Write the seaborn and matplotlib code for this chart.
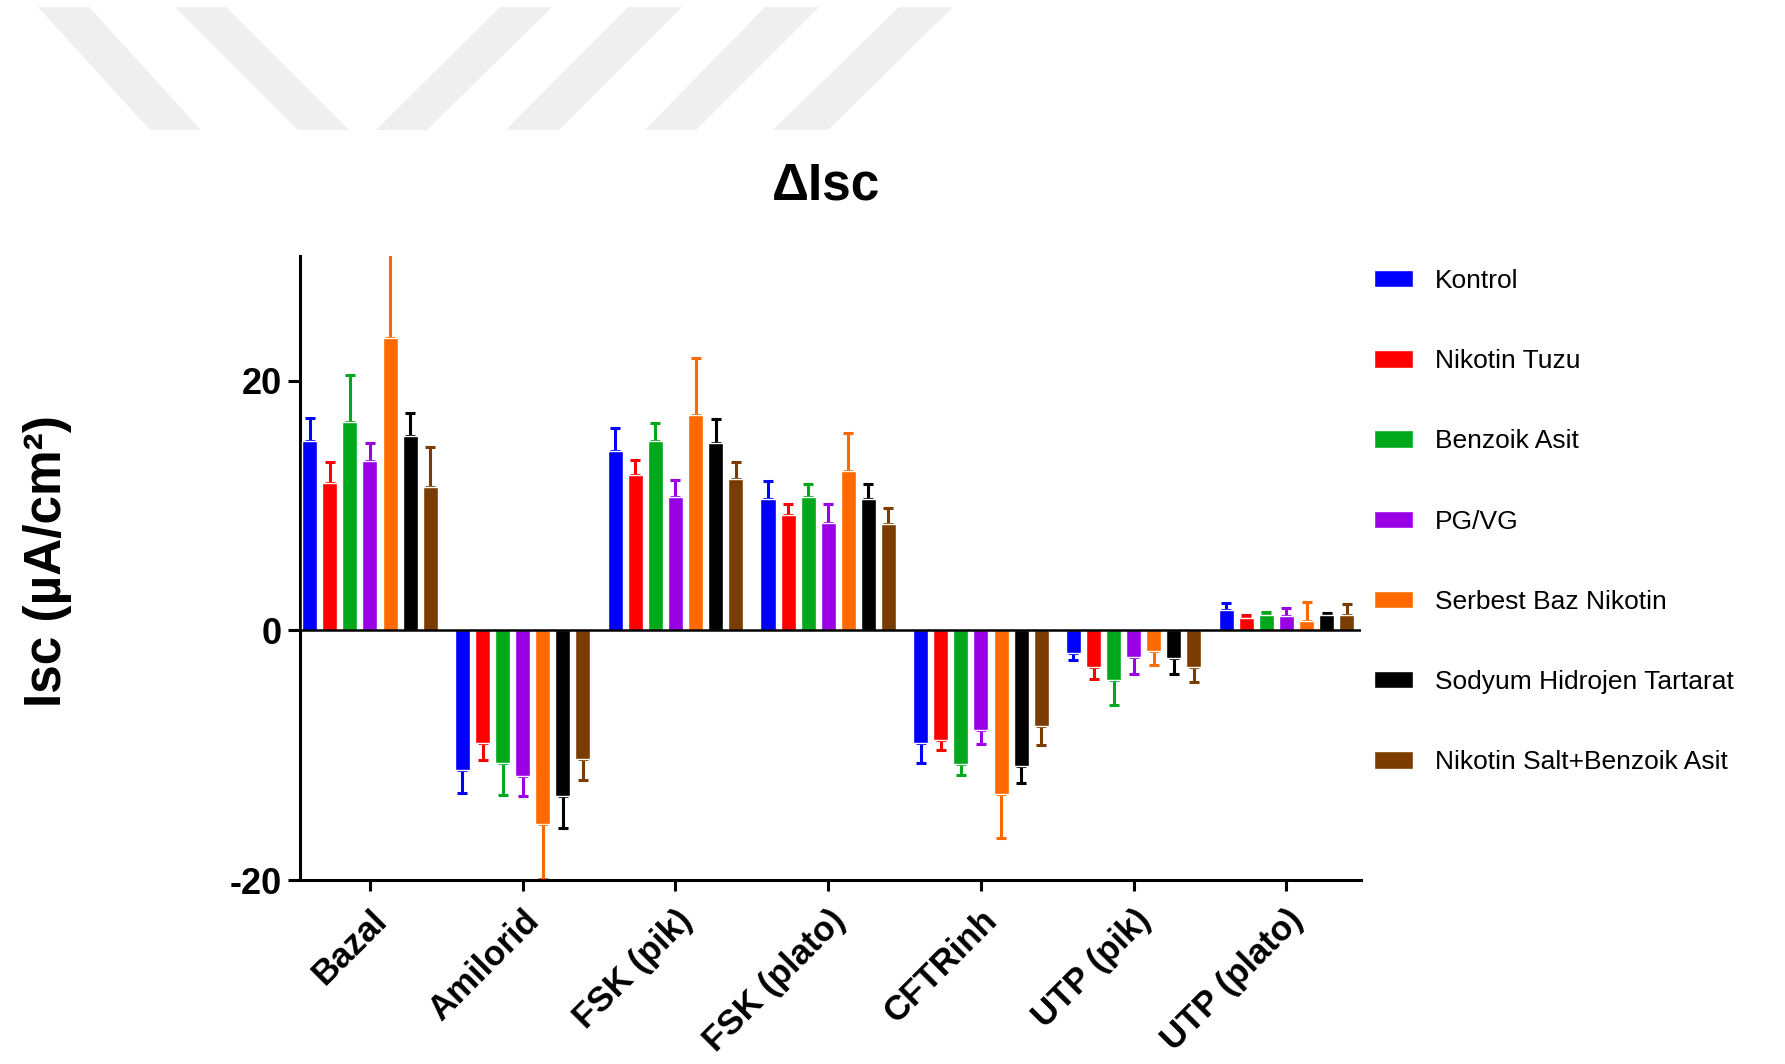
import numpy as np
import pandas as pd
import matplotlib
matplotlib.use("Agg")
import matplotlib.pyplot as plt
from matplotlib.patches import Polygon
import seaborn as sns

categories = ['Bazal', 'Amilorid', 'FSK (pik)', 'FSK (plato)', 'CFTRinh', 'UTP (pik)', 'UTP (plato)']
groups = ['Kontrol', 'Nikotin Tuzu', 'Benzoik Asit', 'PG/VG', 'Serbest Baz Nikotin',
          'Sodyum Hidrojen Tartarat', 'Nikotin Salt+Benzoik Asit']

kontrol = [15.2, -11.2, 14.4, 10.5, -9.0, -1.8, 1.6]
kontrol_err = [1.8, 1.8, 1.85, 1.5, 1.65, 0.55, 0.6]
nikotin_tuzu = [11.8, -9.0, 12.45, 9.25, -8.8, -2.9, 1.0]
nikotin_tuzu_err = [1.7, 1.4, 1.2, 0.85, 0.8, 1.0, 0.2]
benzoik_asit = [16.7, -10.65, 15.2, 10.7, -10.7, -4.0, 1.2]
benzoik_asit_err = [3.8, 2.55, 1.45, 1.0, 0.9, 1.95, 0.3]
pg_vg = [13.6, -11.7, 10.7, 8.6, -8.0, -2.1, 1.15]
pg_vg_err = [1.4, 1.55, 1.35, 1.5, 1.1, 1.4, 0.65]
serbest_baz = [23.4, -15.55, 17.25, 12.8, -13.1, -1.65, 0.75]
serbest_baz_err = [7.5, 4.4, 4.55, 3.0, 3.5, 1.15, 1.5]
sodyum_ht = [15.6, -13.3, 15.0, 10.55, -10.9, -2.25, 1.2]
sodyum_ht_err = [1.8, 2.5, 1.9, 1.15, 1.3, 1.25, 0.2]
nikotin_salt_ba = [11.5, -10.3, 12.1, 8.5, -7.7, -2.9, 1.25]
nikotin_salt_ba_err = [3.2, 1.7, 1.4, 1.3, 1.5, 1.25, 0.9]

values = [kontrol, nikotin_tuzu, benzoik_asit, pg_vg, serbest_baz, sodyum_ht, nikotin_salt_ba]
errors = [kontrol_err, nikotin_tuzu_err, benzoik_asit_err, pg_vg_err, serbest_baz_err,
          sodyum_ht_err, nikotin_salt_ba_err]
colors = ['#0000ff', '#ff0000', '#00a81c', '#9a00e6', '#ff6a00', '#000000', '#7a3c00']

rows = []
for g, vals, errs in zip(groups, values, errors):
    for c, v, e in zip(categories, vals, errs):
        rows.append({'category': c, 'group': g, 'value': v, 'err': e})
df = pd.DataFrame(rows)

sns.set_style('white')
plt.rcParams['font.family'] = ['Liberation Sans', 'DejaVu Sans']
plt.rcParams['axes.unicode_minus'] = False
plt.rcParams['text.color'] = 'black'
plt.rcParams['axes.labelcolor'] = 'black'
plt.rcParams['xtick.color'] = 'black'
plt.rcParams['ytick.color'] = 'black'

W, H = 1785, 1064
fig = plt.figure(figsize=(W / 100, H / 100), dpi=100)

# faint watermark stripes (decoration)
stripes = [((38, 89), (150, 201)), ((175, 226), (298, 349)), ((500, 552), (376, 427)),
           ((628, 682), (506, 559)), ((765, 819), (645, 696)), ((899, 953), (773, 828))]
for (t0, t1), (b0, b1) in stripes:
    ytop, ybot = 1 - 7 / H, 1 - 130 / H
    poly = Polygon([(t0 / W, ytop), (t1 / W, ytop), (b1 / W, ybot), (b0 / W, ybot)],
                   closed=True, transform=fig.transFigure, facecolor='#efefef',
                   edgecolor='none', zorder=0)
    fig.patches.append(poly)

ax = fig.add_axes([300 / W, 1 - 880 / H, (1361 - 300) / W, (880 - 256) / H])
ax.patch.set_alpha(0)

sns.barplot(data=df, x='category', y='value', hue='group', order=categories,
            hue_order=groups, palette=colors, width=0.92, gap=0.25,
            errorbar=None, saturation=1, ax=ax, zorder=3)

for cont, g in zip(ax.containers, groups):
    sub = df[df['group'] == g].set_index('category').loc[categories]
    col = colors[groups.index(g)]
    for p, v, e in zip(cont.patches, sub['value'], sub['err']):
        x = p.get_x() + p.get_width() / 2
        yerr = [[0], [e]] if v >= 0 else [[e], [0]]
        ax.errorbar([x], [v], yerr=yerr, fmt='none', ecolor=col, elinewidth=2.2,
                    capsize=3.5, capthick=2.2, zorder=2)

ax.axhline(0, color='black', lw=1.8, zorder=4)
ax.set_ylim(-20, 30)
ax.set_xlim(-0.458, 6.488)
ax.set_yticks([-20, 0, 20])
ax.set_xlabel('')
ax.set_ylabel('')

for s in ['top', 'right']:
    ax.spines[s].set_visible(False)
for s in ['left', 'bottom']:
    ax.spines[s].set_linewidth(2.2)
    ax.spines[s].set_color('black')

ax.tick_params(axis='y', which='major', direction='out', length=9, width=2.2,
               pad=4, labelsize=26, left=True)
ax.tick_params(axis='x', which='major', direction='out', length=8, width=2.2,
               pad=9, labelsize=25, bottom=True)
for lab in ax.get_yticklabels():
    lab.set_fontweight('bold')
for lab in ax.get_xticklabels():
    lab.set_fontweight('bold')
    lab.set_rotation(45)
    lab.set_ha('right')
    lab.set_rotation_mode('anchor')

handles, labels = ax.get_legend_handles_labels()
ax.legend(handles, labels, loc='upper left', bbox_to_anchor=(1374 / W, 1 - 269 / H),
          bbox_transform=fig.transFigure, frameon=False, fontsize=19,
          labelspacing=2.13, handlelength=1.48, handleheight=0.64,
          handletextpad=0.83, borderpad=0, borderaxespad=0)

fig.text(826 / W, 1 - 186 / H, 'ΔIsc', ha='center', va='center', fontsize=37,
         fontweight='bold')
fig.text(47 / W, 1 - 561 / H, 'Isc (µA/cm²)', ha='center', va='center', fontsize=37,
         fontweight='bold', rotation=90)

fig.savefig('out.png', dpi=100)
